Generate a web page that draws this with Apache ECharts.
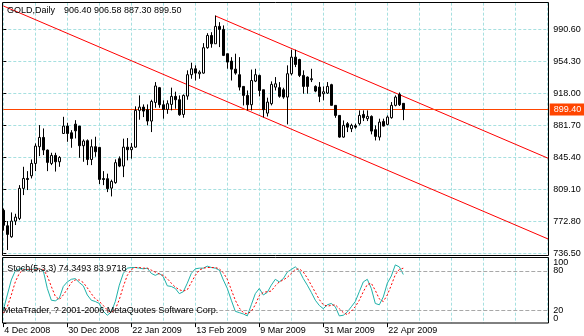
<!DOCTYPE html>
<html><head><meta charset="utf-8">
<script src="https://cdn.jsdelivr.net/npm/echarts@6/dist/echarts.min.js"></script>
<style>html,body{margin:0;padding:0;background:#fff}#c{width:584px;height:336px}</style>
</head><body><div id="c"></div>
<script>
const symbolName = 'GOLD,Daily';
const headerOHLC = ['906.40', '906.58', '887.30', '899.50'];
const opens = [785,767.5,755,772.8,775.8,809.9,821.2,824.2,838.2,857.2,
867.7,853.4,838.2,847.3,840.1,872.2,880.6,873,882.8,880.6,
858.3,864,842.7,857.2,856.4,821,820.9,810.2,816.4,843.6,
835.2,856.7,853.8,856.7,898.4,902.1,899.2,886.3,907.4,924.2,
904.8,899.5,905.2,914.3,910.5,893.8,914.6,938.9,945.6,940,
940.7,969.5,983.4,974,993.7,990.3,962.7,954.3,945.2,938.9,
925.6,915.4,904.8,931.6,938.1,921.8,895.3,906,924.8,924.2,
921.8,913.5,940,958.8,956.1,938.1,936.2,933.2,925.6,924.8,
917.3,918,927.6,904.1,892.7,868.1,883.3,877.6,881,883.3,
893.8,889,891.6,876.5,868.1,885.9,882.5,890.1,904.1,916.5,
906.4];
const highs = [787,772.8,782.6,781.1,813.6,834.4,829.5,842.7,860.9,881.7,
877.9,854,850.3,850.3,846.5,891.1,884.3,876,887.3,880.6,
865.5,865.5,865.5,868.5,857,829.5,826.6,819.8,842.8,846.2,
866.3,867,861.3,903,915.4,905.2,905.2,910.5,930.5,925,
909.8,909.8,924.2,919.6,915.4,916.5,943.8,952.5,949.5,943.8,
974.7,986,987.1,1006.1,998.5,994.8,962.7,958.8,962.7,958.8,
925.6,921,944.7,945.6,938.9,921.8,912.8,931.3,936.2,930.5,
924.1,949.5,967.2,967.2,957,943.8,937,945.6,926.8,930.5,
925.6,930.5,928.6,904.1,892.7,887,885.1,883.3,883.3,898.4,
898.4,898.4,892.7,881.4,889,889,892.7,907.8,915.4,918.7,
906.58];
const lows = [762,740,753.9,768.3,773.9,802.3,808,821.2,829.5,846.5,
847.7,829.5,836.3,829,834.4,872,862.8,856,866.6,844.6,
840.1,836.3,836.3,845.8,814.8,813.6,805.7,800.8,815.2,834,
822.7,841.7,843.6,856,887.8,890.8,881.4,873.8,901.4,901.4,
889,894.5,898.4,900.3,892.3,890.1,910.5,934.3,932.3,934.3,
940,968.4,969.5,974,970.2,960,945.7,932.3,938.9,921,
904,898.4,898.4,930.5,914.3,890.4,891.5,904.1,921,912.8,
911.6,882.5,938.1,947.5,936.2,917.3,917.3,930.5,919,907.8,
909.8,917,904.1,890,867.4,867.4,873.8,873.8,877.6,881.4,
886.3,886.3,871.2,864.3,864.3,880.2,881.4,889,903,903.4,
887.3];
const closes = [768,757.7,772.8,777.3,809.9,821.2,820,838.2,857.9,867.7,
853.4,839.4,847.3,840.1,845,880.6,872.2,866.6,875.2,858.3,
863.6,842.7,857.2,851.5,820.1,820,809.6,817.8,839.1,835.2,
856.7,853.8,856.7,898.4,902.1,897.6,886.3,908.5,926.1,904.8,
899.5,906,914.3,910.5,893.5,915.4,938.9,945.6,940.7,941.8,
969.5,983.4,974,993.7,990.3,960.8,953.2,945.2,940.7,924.8,
915.4,904.8,932.3,938.9,921,899.2,907.8,927.9,928.6,914.4,
913.5,940,958.8,950.5,938.1,925.6,925.6,934.3,920.3,914.3,
919.5,925.6,904.1,892.7,868.1,881.4,879.4,881.4,879.4,892.7,
890.1,891.6,874.9,868.9,885.1,880.6,890.8,904.1,913.5,904.8,
899.5];
const stochMain = [20,43,66,80,83,83,81,82,83,83,
80,53,35,34,38,56,63,67,68,62,
57,43,35,33,30,18,12,17,33,58,
76,84,85,85,84,83,84,76,73,76,
71,57,56,53,45,48,61,76,83,84,
84,87,85,84,81,66,53,35,18,16,
14,11,28,45,53,43,47,58,67,63,
68,78,82,86,80,68,58,47,35,27,
22,28,30,25,11,12,17,25,33,48,
63,67,53,30,28,40,61,72,89,86,
74.35];
const stochSignal = [15,25,43,63,76,82,82,82,82,83,
82,72,56,41,36,43,52,62,66,66,
62,54,45,37,33,27,20,16,21,36,
56,73,82,85,85,84,84,81,78,75,
73,68,61,55,51,49,51,62,73,81,
84,85,85,85,83,77,67,51,35,23,
16,14,18,28,42,47,48,49,57,63,
66,70,76,82,83,78,69,58,47,36,
28,26,27,28,22,16,13,18,25,35,
48,59,61,50,37,33,43,58,74,82,
83.97];
const stochTitle = 'Stoch(5,3,3) 74.3493 83.9718';
const copyrightText = 'MetaTrader, ? 2001-2006 MetaQuotes Software Corp.';
const dateLabels = ['4 Dec 2008', '30 Dec 2008', '22 Jan 2009', '13 Feb 2009', '9 Mar 2009', '31 Mar 2009', '22 Apr 2009'];
const dateLabelBars = [0, 16, 32, 48, 64, 80, 96];
const priceTicks = [736.5, 772.8, 809.1, 845.4, 881.7, 918.0, 954.3, 990.6];
const priceMin = 736.5, priceMax = 1020.6;
const barMax = 136.35;
const bidPrice = 899.40;
const channelUpper = [[53.1, 1005.4], [136.35, 843.8]];
const channelLower = [[0, 1016.9], [136.35, 752.2]];
const stochLevels = [20, 80];
const stochLevelLabels = [20, 80];
const stochEdgeLabels = [0, 100];

const FONT = '"Liberation Sans", Arial, sans-serif';
const GRID_COLOR = '#A6E0E0';
const BID_COLOR = '#FF4500';
const gridSplit = { show: true, lineStyle: { color: GRID_COLOR, type: [3, 2], width: 1 } };

const chart = echarts.init(document.getElementById('c'), null, { renderer: 'canvas' });
const candleData = opens.map((o, i) => [i, o, closes[i], lows[i], highs[i]]);
const stochYAxis = (values, extra) => Object.assign({
  gridIndex: 1, type: 'value', position: 'right', offset: 0, min: 0, max: 100,
  axisLine: { show: false },
  axisTick: { show: true, length: 3, lineStyle: { color: '#000' }, customValues: values },
  axisLabel: Object.assign({ customValues: values, margin: 4.5, color: '#000', fontSize: 9, fontFamily: FONT,
    showMinLabel: true, showMaxLabel: true }, extra || {}),
  splitLine: { show: false }
});

chart.setOption({
  animation: false,
  backgroundColor: '#fff',
  grid: [
    { left: 3.3, right: 35.3, top: 2.68, height: 250.4 },
    { left: 3.3, right: 35.3, top: 257.7, height: 65.4 }
  ],
  xAxis: [
    { gridIndex: 0, type: 'value', min: 0, max: barMax, interval: 8,
      axisLine: { show: false }, axisTick: { show: false }, axisLabel: { show: false }, splitLine: gridSplit },
    { gridIndex: 1, type: 'value', min: 0, max: barMax, interval: 8,
      axisLine: { show: false }, axisTick: { show: false }, axisLabel: { show: false }, splitLine: gridSplit },
    { gridIndex: 1, type: 'value', min: 0, max: barMax, position: 'bottom',
      axisLine: { show: false },
      axisTick: { show: true, length: 4, lineStyle: { color: '#000' }, customValues: dateLabelBars },
      axisLabel: { show: true, customValues: dateLabelBars, align: 'left', margin: 3, padding: [0, 0, 0, 1],
        color: '#000', fontSize: 9, fontFamily: FONT,
        formatter: v => { const k = dateLabelBars.indexOf(Math.round(v)); return k >= 0 ? dateLabels[k] : ''; } },
      splitLine: { show: false } }
  ],
  yAxis: [
    { gridIndex: 0, type: 'value', position: 'right', min: priceMin, max: priceMax,
      axisLine: { show: false },
      axisTick: { show: true, length: 3, lineStyle: { color: '#000' }, customValues: priceTicks },
      axisLabel: { customValues: priceTicks, margin: 4.5, color: '#000', fontSize: 9, fontFamily: FONT,
        formatter: v => v.toFixed(2) },
      splitLine: gridSplit },
    stochYAxis(stochLevelLabels),
    stochYAxis(stochEdgeLabels, { verticalAlignMinLabel: 'bottom', verticalAlignMaxLabel: 'top' })
  ],
  series: [
    { type: 'line', xAxisIndex: 0, yAxisIndex: 0, data: channelUpper, symbol: 'none', silent: true,
      lineStyle: { color: '#FF0000', width: 1 }, z: 3 },
    { type: 'line', xAxisIndex: 0, yAxisIndex: 0, data: channelLower, symbol: 'none', silent: true,
      lineStyle: { color: '#FF0000', width: 1 }, z: 3 },
    { type: 'line', xAxisIndex: 0, yAxisIndex: 0, data: [[0, bidPrice], [barMax, bidPrice]], symbol: 'none', silent: true,
      color: BID_COLOR, lineStyle: { color: BID_COLOR, width: 1, opacity: 1 }, z: 3,
      endLabel: { show: true, distance: 1, formatter: () => bidPrice.toFixed(2),
        backgroundColor: BID_COLOR, color: '#fff', padding: [2, 4, 1, 4], fontSize: 9, fontFamily: FONT } },
    { type: 'candlestick', xAxisIndex: 0, yAxisIndex: 0, data: candleData, barWidth: 2, z: 4,
      itemStyle: { color: '#fff', color0: '#000', borderColor: '#000', borderColor0: '#000', borderWidth: 1 } },
    { type: 'line', xAxisIndex: 1, yAxisIndex: 1, data: stochMain.map((v, i) => [i, v]), symbol: 'none', silent: true,
      lineStyle: { color: '#20B2AA', width: 1 }, z: 4,
      markLine: { silent: true, symbol: ['none', 'none'], animation: false, label: { show: false },
        lineStyle: { color: '#A8A8A8', width: 1, type: [4, 2] },
        data: stochLevels.map(v => ({ yAxis: v })) } },
    { type: 'line', xAxisIndex: 1, yAxisIndex: 1, data: stochSignal.map((v, i) => [i, v]), symbol: 'none', silent: true,
      lineStyle: { color: '#FF0000', width: 1, type: [2, 2] }, z: 5 }
  ],
  graphic: [
    { type: 'rect', z: 100, silent: true, shape: { x: 2.5, y: 2.5, width: 546, height: 253 },
      style: { fill: 'none', stroke: '#000', lineWidth: 1 } },
    { type: 'rect', z: 100, silent: true, shape: { x: 2.5, y: 257.5, width: 546, height: 65.5 },
      style: { fill: 'none', stroke: '#000', lineWidth: 1 } },
    { type: 'text', z: 101, silent: true, x: 7, y: 10.7,
      style: { text: symbolName, fill: '#000', font: '9px ' + FONT, verticalAlign: 'middle', align: 'left' } },
    { type: 'text', z: 101, silent: true, x: 64, y: 10.7,
      style: { text: headerOHLC.join(' '), fill: '#000', font: '9px ' + FONT, verticalAlign: 'middle', align: 'left' } },
    { type: 'text', z: 101, silent: true, x: 7.3, y: 268.3,
      style: { text: stochTitle, fill: '#000', font: '9px ' + FONT, verticalAlign: 'middle', align: 'left' } },
    { type: 'text', z: 101, silent: true, x: 3, y: 310.5,
      style: { text: copyrightText, fill: '#000', font: '9px ' + FONT, verticalAlign: 'middle', align: 'left' } }
  ]
});
</script>
</body></html>
